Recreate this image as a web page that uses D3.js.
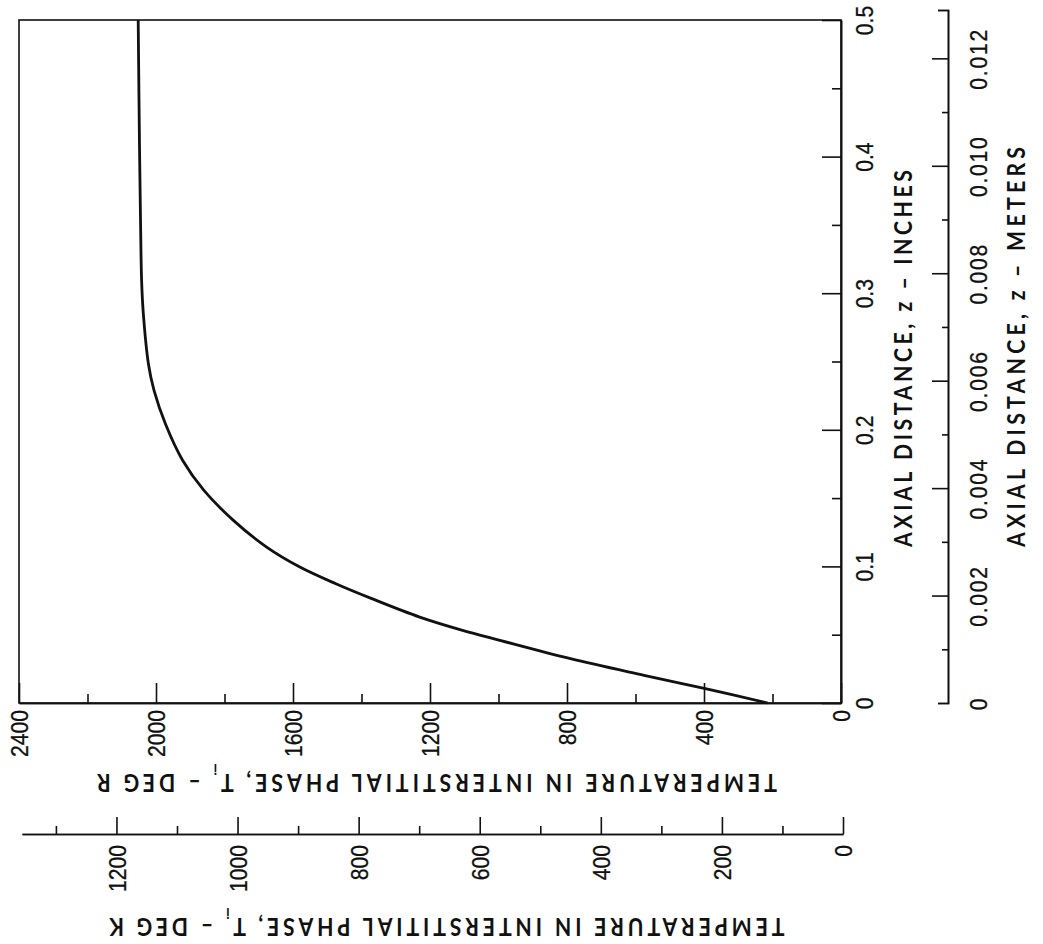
<!DOCTYPE html>
<html>
<head>
<meta charset="utf-8">
<script src="https://cdn.jsdelivr.net/npm/d3@7"></script>
<style>
  body { margin: 0; background: #fff; }
</style>
</head>
<body>
<div id="chart"></div>
<script>
// Curve: axial distance z (inches) vs interstitial temperature (deg R)
const zInches = [0, 0.0105, 0.0203, 0.0325, 0.0459, 0.0532, 0.0629, 0.0764, 0.0873, 0.0995, 0.1141,
  0.1337, 0.1556, 0.1775, 0.204, 0.229, 0.248, 0.285, 0.309, 0.35, 0.404, 0.5];
const tempR = [214, 396, 575, 790, 996, 1105, 1230, 1370, 1475, 1580, 1677,
  1774, 1860, 1922, 1972, 2006, 2022, 2037, 2042, 2045, 2048, 2052];

// Tick values
const rTicks = [0, 400, 800, 1200, 1600, 2000, 2400];
const rMinorTicks = [200, 600, 1000, 1400, 1800, 2200];
const kTicks = [0, 200, 400, 600, 800, 1000, 1200];
const kMinorTicks = [100, 300, 500, 700, 900, 1100, 1300];
const inchTicks = [0, 0.1, 0.2, 0.3, 0.4, 0.5];
const inchMinorTicks = [0.05, 0.15, 0.25, 0.35, 0.45];
const meterTicks = [0, 0.002, 0.004, 0.006, 0.008, 0.010, 0.012];
const meterMinorTicks = [0.001, 0.003, 0.005, 0.007, 0.009, 0.011];

const W = 1043, H = 944;
const plot = { left: 19, right: 841, top: 20, bottom: 703 };
const tickFont = "'Liberation Sans', Arial, sans-serif";
const titleFont = "Lato, 'Open Sans', sans-serif";
const ink = "#111";
const sx = 0.88;      // narrow the tick digits like the original lettering

const svg = d3.select("#chart")
  .append("svg")
  .attr("width", W)
  .attr("height", H)
  .style("background", "#fff");

// Scales (chart is printed rotated: temperature runs right-to-left, distance bottom-to-top)
const xR = d3.scaleLinear().domain([0, 2400]).range([plot.right, plot.left]);
const xK = d3.scaleLinear().domain([0, 1356]).range([843, 22]);
const yIn = d3.scaleLinear().domain([0, 0.5]).range([plot.bottom, plot.top]);
const yM = d3.scaleLinear().domain([0, 0.0129]).range([plot.bottom, 10]);

function styleAxis(g) {
  g.select(".domain").attr("stroke", ink).attr("stroke-width", 1.6);
  g.selectAll(".tick line").attr("stroke", ink).attr("stroke-width", 1.6);
  g.selectAll(".tick text")
    .attr("fill", ink)
    .attr("stroke", ink)
    .attr("stroke-width", 0.3)
    .style("font-family", tickFont)
    .style("font-size", "24px");
}

// vertical tick text: end (or middle) sits at offset `along` from the axis, centred on the tick
function rotateLabels(sel, along, anchor, across) {
  sel.selectAll(".tick text")
    .attr("transform", `rotate(-90) scale(${sx},1)`)
    .attr("x", along / sx)
    .attr("y", across)
    .attr("dy", across === 0 ? "0.36em" : 0)
    .attr("text-anchor", anchor);
}

// Frame
svg.append("rect")
  .attr("x", plot.left)
  .attr("y", plot.top)
  .attr("width", plot.right - plot.left)
  .attr("height", plot.bottom - plot.top)
  .attr("fill", "none")
  .attr("stroke", ink)
  .attr("stroke-width", 1.6);

// Temperature, deg R (bottom edge of frame, ticks inward)
const rAxis = svg.append("g").attr("transform", `translate(0,${plot.bottom})`);
rAxis.append("g")
  .call(d3.axisBottom(xR).tickValues(rMinorTicks).tickSize(-9).tickSizeOuter(0).tickFormat(""))
  .call(styleAxis);
rAxis.append("g")
  .call(d3.axisBottom(xR).tickValues(rTicks).tickSize(-20).tickSizeOuter(0).tickFormat(d3.format("d")))
  .call(styleAxis)
  .call(g => rotateLabels(g, -7, "end", 0));

// Temperature, deg K (separate scale below)
const kAxis = svg.append("g").attr("transform", "translate(0,834)");
kAxis.append("g")
  .call(d3.axisBottom(xK).tickValues(kMinorTicks).tickSize(-8).tickSizeOuter(0).tickFormat(""))
  .call(styleAxis);
kAxis.append("g")
  .call(d3.axisBottom(xK).tickValues(kTicks).tickSize(-17).tickSizeOuter(0).tickFormat(d3.format("d")))
  .call(styleAxis)
  .call(g => rotateLabels(g, -11, "end", 0));

// Axial distance, inches (right edge of frame, ticks inward)
const inAxis = svg.append("g").attr("transform", `translate(${plot.right},0)`);
inAxis.append("g")
  .call(d3.axisRight(yIn).tickValues(inchMinorTicks).tickSize(-9).tickSizeOuter(0).tickFormat(""))
  .call(styleAxis);
inAxis.append("g")
  .call(d3.axisRight(yIn).tickValues(inchTicks).tickSize(-19).tickSizeOuter(0)
    .tickFormat(d => d === 0 ? "0" : d3.format(".1f")(d)))
  .call(styleAxis)
  .call(g => rotateLabels(g, 0, "middle", 32));

// Axial distance, meters (separate axis at far right)
const mAxis = svg.append("g").attr("transform", "translate(948,0)");
mAxis.append("g")
  .call(d3.axisRight(yM).tickValues(meterMinorTicks).tickSize(-6).tickSizeOuter(-10).tickFormat(""))
  .call(styleAxis);
mAxis.append("g")
  .call(d3.axisRight(yM).tickValues(meterTicks.slice(1)).tickSize(-16).tickSizeOuter(-10).tickFormat(d3.format(".3f")))
  .call(styleAxis);
mAxis.append("g")
  .call(d3.axisRight(yM).tickValues([0]).tickSize(0).tickSizeOuter(0).tickFormat(d3.format("d")))
  .call(styleAxis)
  .call(g => g.select(".domain").remove());
mAxis.call(g => rotateLabels(g, 0, "middle", 39))
  .selectAll(".tick text")
  .style("letter-spacing", "2px");

// Temperature curve
const pts = zInches.map((z, i) => ({ z, t: tempR[i] }));
const line = d3.line()
  .x(d => xR(d.t))
  .y(d => yIn(d.z))
  .curve(d3.curveCatmullRom.alpha(0.5));

svg.append("path")
  .datum(pts)
  .attr("d", line)
  .attr("fill", "none")
  .attr("stroke", ink)
  .attr("stroke-width", 2.8)
  .attr("stroke-linejoin", "round");

// Axis titles (upside down for temperature, vertical for distance)
const tx = 0.85;   // condensed lettering, spread out with textLength
function titleText(transform, len) {
  return svg.append("text")
    .attr("transform", transform + ` scale(${tx},1)`)
    .attr("text-anchor", "middle")
    .attr("textLength", len / tx)
    .attr("lengthAdjust", "spacing")
    .attr("fill", ink)
    .style("font-family", titleFont)
    .style("font-size", "25px")
    .style("font-weight", "700");
}

function tempTitle(cx, baseY, len, unit) {
  const t = titleText(`translate(${cx},${baseY}) rotate(180)`, len);
  t.append("tspan").text("TEMPERATURE IN INTERSTITIAL PHASE, T");
  t.append("tspan").attr("font-size", "15px").attr("baseline-shift", "sub").text("i");
  t.append("tspan").text(" \u2013 DEG " + unit);
}
tempTitle(437, 774, 680, "R");
tempTitle(447, 918, 675, "K");

function distTitle(baseX, y0, y1, unit) {
  titleText(`translate(${baseX},${(y0 + y1) / 2}) rotate(-90)`, y1 - y0)
    .text("AXIAL DISTANCE, z \u2013 " + unit);
}
distTitle(912, 170, 547, "INCHES");
distTitle(1025, 147, 547, "METERS");
</script>
</body>
</html>
